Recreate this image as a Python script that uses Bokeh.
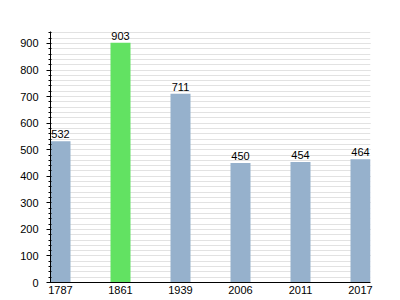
from bokeh.plotting import figure
from bokeh.models import ColumnDataSource, Range1d, FixedTicker, Grid, LabelSet
from bokeh.embed import file_html
from bokeh.resources import INLINE
from bokeh.core.properties import value

years = ["1787", "1861", "1939", "2006", "2011", "2017"]
population = [532, 903, 711, 450, 454, 464]
bar_colors = ["#96b1cc", "#62e262", "#96b1cc", "#96b1cc", "#96b1cc", "#96b1cc"]
y_major_ticks = [0, 100, 200, 300, 400, 500, 600, 700, 800, 900]
y_minor_ticks = list(range(0, 960, 20))

xs = list(range(len(years)))
src = ColumnDataSource(dict(x=xs, y=population, c=bar_colors,
                            lab=[str(v) for v in population]))

p = figure(width=400, height=300, output_backend="svg", toolbar_location=None,
           x_range=Range1d(-1/6, len(years) - 1 + 1/6), y_range=Range1d(0, 945),
           min_border_left=50, min_border_right=30, min_border_top=31, min_border_bottom=18)
p.outline_line_color = None
p.background_fill_color = "white"
p.border_fill_color = "white"

# gridlines
p.xgrid.visible = False
p.ygrid.ticker = FixedTicker(ticks=y_major_ticks)
p.ygrid.grid_line_color = "#aaaaaa"
p.ygrid.grid_line_width = 1
minor = Grid(dimension=1, ticker=FixedTicker(ticks=y_minor_ticks),
             grid_line_color="#e2e2e2", grid_line_width=1, level="underlay")
p.add_layout(minor)

p.vbar(x="x", top="y", width=1/3, fill_color="c", line_color=None, source=src)

labels = LabelSet(x="x", y="y", text="lab", source=src, text_align="center",
                  text_baseline="bottom", y_offset=3, text_font=value("Liberation Sans"),
                  text_font_size="11px", text_color="black")
p.add_layout(labels)

# y axis
p.yaxis.ticker = FixedTicker(ticks=y_major_ticks, minor_ticks=y_minor_ticks)
p.yaxis.major_tick_out = 4
p.yaxis.major_tick_in = 0
p.yaxis.minor_tick_out = 2
p.yaxis.minor_tick_in = 1
p.yaxis.major_label_standoff = 8
p.yaxis.major_label_text_font = "Liberation Sans"
p.yaxis.major_label_text_font_size = "11px"
p.yaxis.major_label_text_color = "black"
p.yaxis.axis_line_color = "black"

# x axis
p.xaxis.ticker = FixedTicker(ticks=xs)
p.xaxis.major_label_overrides = {i: y for i, y in enumerate(years)}
p.xaxis.major_tick_out = 0
p.xaxis.major_tick_in = 0
p.xaxis.minor_tick_out = 0
p.xaxis.minor_tick_in = 0
p.xaxis.major_label_standoff = 3
p.xaxis.major_label_text_font = "Liberation Sans"
p.xaxis.major_label_text_font_size = "11px"
p.xaxis.major_label_text_color = "black"
p.xaxis.axis_line_color = "black"

open("out.html", "w").write(file_html(p, INLINE))
